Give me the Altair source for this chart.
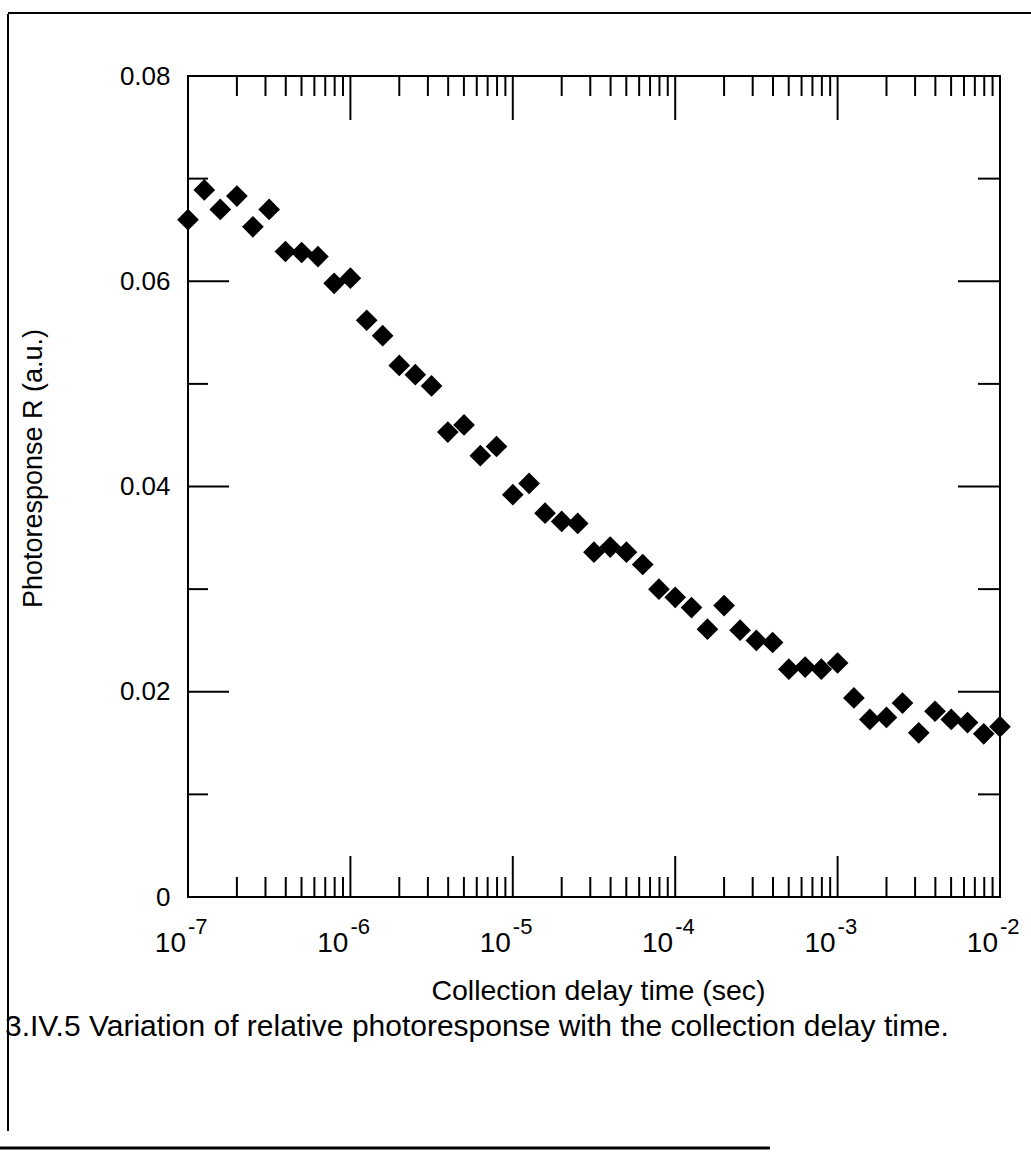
import altair as alt
import pandas as pd

# ---- data ----
delay_time = [
    1.0e-7, 1.26e-7, 1.58e-7, 2.0e-7, 2.51e-7, 3.16e-7, 3.98e-7, 5.01e-7, 6.31e-7, 7.94e-7,
    1.0e-6, 1.26e-6, 1.58e-6, 2.0e-6, 2.51e-6, 3.16e-6, 3.98e-6, 5.01e-6, 6.31e-6, 7.94e-6,
    1.0e-5, 1.26e-5, 1.58e-5, 2.0e-5, 2.51e-5, 3.16e-5, 3.98e-5, 5.01e-5, 6.31e-5, 7.94e-5,
    1.0e-4, 1.26e-4, 1.58e-4, 2.0e-4, 2.51e-4, 3.16e-4, 3.98e-4, 5.01e-4, 6.31e-4, 7.94e-4,
    1.0e-3, 1.26e-3, 1.58e-3, 2.0e-3, 2.51e-3, 3.16e-3, 3.98e-3, 5.01e-3, 6.31e-3, 7.94e-3,
    1.0e-2,
]
photoresponse = [
    0.0660, 0.0689, 0.0670, 0.0683, 0.0653, 0.0670, 0.0629, 0.0628, 0.0624, 0.0598,
    0.0603, 0.0562, 0.0547, 0.0518, 0.0509, 0.0498, 0.0453, 0.0460, 0.0430, 0.0439,
    0.0392, 0.0403, 0.0374, 0.0366, 0.0364, 0.0336, 0.0341, 0.0336, 0.0324, 0.0300,
    0.0292, 0.0282, 0.0261, 0.0284, 0.0260, 0.0250, 0.0248, 0.0222, 0.0224, 0.0222,
    0.0228, 0.0194, 0.0173, 0.0175, 0.0189, 0.0160, 0.0181, 0.0173, 0.0170, 0.0159,
    0.0166,
]

# axis tick positions / labels
decades = [1e-7, 1e-6, 1e-5, 1e-4, 1e-3, 1e-2]
decade_base = ["10", "10", "10", "10", "10", "10"]
decade_exp = ["-7", "-6", "-5", "-4", "-3", "-2"]
inner_decades = [1e-6, 1e-5, 1e-4, 1e-3]
mantissas = [2, 3, 4, 5, 6, 7, 8, 9]
minor_x = [m * d for d in [1e-7, 1e-6, 1e-5, 1e-4, 1e-3] for m in mantissas]
y_labels = [0, 0.02, 0.04, 0.06, 0.08]
y_major = [0.02, 0.04, 0.06]
y_minor = [0.01, 0.03, 0.05, 0.07]

x_title = "Collection delay time (sec)"
y_title = "Photoresponse R (a.u.)"
caption = "3.IV.5 Variation of relative photoresponse with the collection delay time."

FONT = "Liberation Sans, Arial, sans-serif"
W, H = 812, 821

xscale = alt.Scale(type="log", domain=[1e-7, 1e-2], nice=False)
yscale = alt.Scale(domain=[0, 0.08], nice=False, zero=True)

df = pd.DataFrame({"t": delay_time, "r": photoresponse})

points = alt.Chart(df).mark_point(
    shape="diamond", filled=True, color="black", size=470, opacity=1
).encode(
    x=alt.X("t:Q", scale=xscale, axis=alt.Axis(
        labels=False, ticks=False, domain=False, grid=False,
        title=x_title, titleFont=FONT, titleFontSize=28.5, titleFontWeight="normal",
        titleColor="black", titleX=410, titleY=93, titleBaseline="middle",
        titleAnchor="middle", titleAlign="center")),
    y=alt.Y("r:Q", scale=yscale, axis=alt.Axis(
        values=y_labels, ticks=False, domain=False, grid=False,
        labelExpr="datum.value == 0 ? '0' : format(datum.value, '.2f')",
        labelFont=FONT, labelFontSize=26, labelColor="black", labelPadding=18,
        labelBaseline="middle",
        title=y_title, titleFont=FONT, titleFontSize=27, titleFontWeight="normal",
        titleColor="black", titleX=-155, titleY=392, titleAngle=-90,
        titleBaseline="middle", titleAlign="center")),
)

def xticks(vals, y0, y1):
    return alt.Chart(pd.DataFrame({"v": vals})).mark_rule(
        color="black", strokeWidth=2
    ).encode(x=alt.X("v:Q", scale=xscale), y=alt.value(y0), y2=alt.value(y1))

def yticks(vals, x0, x1):
    return alt.Chart(pd.DataFrame({"v": vals})).mark_rule(
        color="black", strokeWidth=2
    ).encode(y=alt.Y("v:Q", scale=yscale), x=alt.value(x0), x2=alt.value(x1))

ticks = [
    xticks(inner_decades, H, H - 41),
    xticks(minor_x, H, H - 20),
    xticks(inner_decades, 0, 44),
    xticks(minor_x, 0, 20),
    yticks(y_major, 0, 41),
    yticks(y_minor, 0, 20),
    yticks(y_major, W - 42, W),
    yticks(y_minor, W - 22, W),
]

lab_df = pd.DataFrame({"v": decades, "base": decade_base, "exp": decade_exp})
lab_base = alt.Chart(lab_df).mark_text(
    align="right", baseline="alphabetic", dx=-2, font=FONT, fontSize=28, color="black"
).encode(x=alt.X("v:Q", scale=xscale), y=alt.value(876), text="base:N")
lab_exp = alt.Chart(lab_df).mark_text(
    align="left", baseline="alphabetic", dx=0, font=FONT, fontSize=22, color="black"
).encode(x=alt.X("v:Q", scale=xscale), y=alt.value(858), text="exp:N")

cap = alt.Chart(pd.DataFrame({"c": [caption]})).mark_text(
    align="left", baseline="middle", font=FONT, fontSize=30, color="black"
).encode(x=alt.value(-183), y=alt.value(951), text="c:N")

# scanned page frame
frame_df = pd.DataFrame({"k": [0]})
frame_left = alt.Chart(frame_df).mark_rule(color="black", strokeWidth=2).encode(
    x=alt.value(-180), y=alt.value(-62), y2=alt.value(1055))
frame_top = alt.Chart(frame_df).mark_rule(color="black", strokeWidth=2).encode(
    x=alt.value(-180), x2=alt.value(843), y=alt.value(-63))
frame_bottom = alt.Chart(frame_df).mark_rule(color="black", strokeWidth=3).encode(
    x=alt.value(-188), x2=alt.value(582), y=alt.value(1072))

chart = alt.layer(
    *ticks, points, lab_base, lab_exp, cap, frame_left, frame_top, frame_bottom
).properties(
    width=W, height=H,
    autosize=alt.AutoSizeParams(type="none"),
    padding={"left": 188, "top": 76, "right": 31, "bottom": 262},
    background="white",
).configure_view(
    stroke="black", strokeWidth=2
)

chart.save("out.html", embed_options={"renderer": "svg", "actions": False})
